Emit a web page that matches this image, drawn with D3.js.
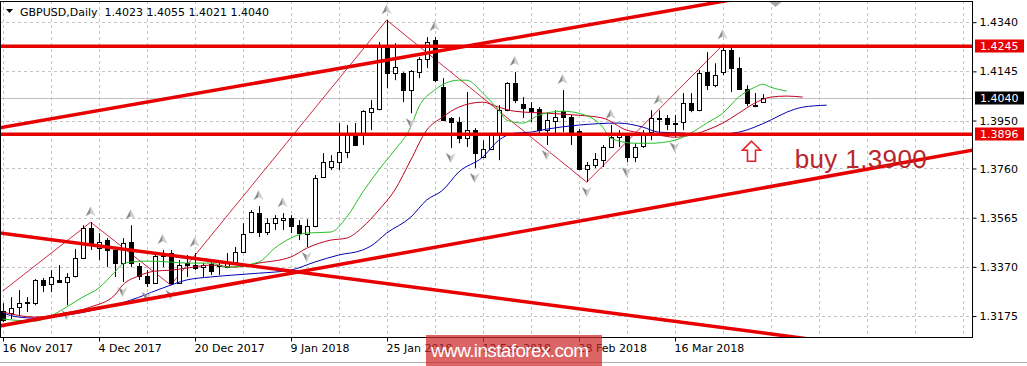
<!DOCTYPE html>
<html>
<head>
<meta charset="utf-8">
<script src="https://cdn.jsdelivr.net/npm/d3@7"></script>
<style>
  body { margin: 0; background: #fff; }
  svg { display: block; font-family: "DejaVu Sans", Verdana, sans-serif; }
</style>
</head>
<body>
<div id="chart"></div>
<script>
// GBPUSD daily candles, one per trading day from 16 Nov 2017: [open, high, low, close]
const candles = [
  [1.3195,1.3226,1.3151,1.3159],[1.3187,1.3250,1.3163,1.3207],[1.3211,1.3278,1.3179,1.3226],
  [1.3226,1.3250,1.3191,1.3230],[1.3226,1.3322,1.3218,1.3318],[1.3318,1.3326,1.3270,1.3298],
  [1.3302,1.3357,1.3270,1.3330],[1.3318,1.3377,1.3306,1.3310],[1.3310,1.3345,1.3218,1.3330],
  [1.3334,1.3441,1.3328,1.3405],[1.3405,1.3535,1.3401,1.3523],[1.3523,1.3547,1.3437,1.3464],
  [1.3445,1.3504,1.3397,1.3468],[1.3476,1.3484,1.3369,1.3437],[1.3437,1.3449,1.3330,1.3385],
  [1.3385,1.3484,1.3310,1.3464],[1.3468,1.3535,1.3369,1.3385],[1.3373,1.3385,1.3318,1.3334],
  [1.3334,1.3357,1.3290,1.3306],[1.3306,1.3425,1.3302,1.3413],[1.3413,1.3437,1.3369,1.3425],
  [1.3425,1.3437,1.3298,1.3306],[1.3306,1.3397,1.3302,1.3377],[1.3385,1.3417,1.3330,1.3377],
  [1.3377,1.3425,1.3357,1.3365],[1.3369,1.3385,1.3330,1.3377],[1.3381,1.3389,1.3338,1.3353],
  [1.3377,1.3389,1.3338,1.3373],[1.3369,1.3425,1.3365,1.3389],[1.3389,1.3449,1.3385,1.3429],
  [1.3429,1.3543,1.3425,1.3500],[1.3508,1.3595,1.3504,1.3587],[1.3583,1.3611,1.3488,1.3508],
  [1.3508,1.3563,1.3496,1.3543],[1.3543,1.3575,1.3516,1.3563],[1.3555,1.3583,1.3516,1.3563],
  [1.3563,1.3575,1.3504,1.3531],[1.3535,1.3555,1.3476,1.3504],[1.3500,1.3559,1.3449,1.3531],
  [1.3531,1.3734,1.3527,1.3722],[1.3726,1.3821,1.3722,1.3785],[1.3766,1.3813,1.3754,1.3789],
  [1.3785,1.3940,1.3754,1.3825],[1.3825,1.3932,1.3801,1.3892],[1.3892,1.3940,1.3849,1.3853],
  [1.3892,1.3991,1.3853,1.3987],[1.3983,1.4031,1.3912,1.3999],[1.3995,1.4261,1.3991,1.4245],
  [1.4241,1.4348,1.4078,1.4138],[1.4138,1.4257,1.4110,1.4162],[1.4138,1.4142,1.4023,1.4071],
  [1.4071,1.4150,1.3979,1.4146],[1.4142,1.4201,1.4118,1.4193],[1.4193,1.4281,1.4158,1.4261],
  [1.4269,1.4281,1.4102,1.4110],[1.4082,1.4118,1.3948,1.3952],[1.3960,1.3964,1.3841,1.3944],
  [1.3944,1.3964,1.3860,1.3880],[1.3880,1.4063,1.3845,1.3912],[1.3912,1.3920,1.3762,1.3821],
  [1.3805,1.3872,1.3801,1.3837],[1.3837,1.3900,1.3833,1.3892],[1.3892,1.4011,1.3793,1.3991],
  [1.3991,1.4102,1.3987,1.4098],[1.4098,1.4142,1.4019,1.4031],[1.4015,1.4043,1.3960,1.3999],
  [1.3999,1.4023,1.3944,1.3987],[1.3995,1.4003,1.3900,1.3912],[1.3912,1.3983,1.3853,1.3952],
  [1.3948,1.3991,1.3900,1.3964],[1.3987,1.4071,1.3904,1.3964],[1.3964,1.3972,1.3853,1.3904],
  [1.3908,1.3916,1.3754,1.3758],[1.3758,1.3785,1.3706,1.3773],[1.3773,1.3821,1.3762,1.3797],
  [1.3793,1.3853,1.3766,1.3845],[1.3845,1.3932,1.3841,1.3884],[1.3884,1.3912,1.3845,1.3900],
  [1.3896,1.3900,1.3785,1.3805],[1.3805,1.3860,1.3785,1.3845],[1.3849,1.3912,1.3841,1.3900],
  [1.3904,1.3991,1.3872,1.3960],[1.3960,1.3991,1.3900,1.3958],[1.3960,1.3972,1.3912,1.3936],
  [1.3936,1.3972,1.3884,1.3940],[1.3944,1.4059,1.3912,1.4019],[1.4019,1.4059,1.3983,1.3991],
  [1.3991,1.4150,1.3987,1.4138],[1.4142,1.4221,1.4071,1.4090],[1.4090,1.4177,1.4082,1.4130],
  [1.4142,1.4249,1.4130,1.4229],[1.4229,1.4249,1.4063,1.4158],[1.4158,1.4201,1.4071,1.4075],
  [1.4075,1.4090,1.4007,1.4019],[1.4011,1.4059,1.4003,1.4007],[1.4023,1.4055,1.4021,1.4040]
];

const symbol = "GBPUSD", period = "Daily";

// axis labels
const priceTicks = [1.4340, 1.4145, 1.3950, 1.3760, 1.3565, 1.3370, 1.3175];
const dateLabels = ["16 Nov 2017", "4 Dec 2017", "20 Dec 2017", "9 Jan 2018",
                    "25 Jan 2018", "12 Feb 2018", "28 Feb 2018", "16 Mar 2018"];
const dateLabelBars = [0, 12, 24, 36, 48, 60, 72, 84];

// alligator lines as [bar, price] (shifted ahead of the last bar)
const lips = [[0,1.3163],[4,1.3155],[6,1.3175],[8,1.3211],[10,1.3250],[12,1.3286],[14,1.3349],
  [15,1.3381],[16,1.3389],[18,1.3393],[21,1.3389],[23,1.3385],[26,1.3385],[28,1.3369],[32,1.3389],
  [34,1.3444],[36,1.3484],[38,1.3504],[41,1.3508],[43,1.3567],[45,1.3666],[47,1.3754],[49,1.3833],
  [51,1.3924],[52,1.4003],[54,1.4071],[57,1.4110],[58,1.4110],[60,1.4059],[62,1.3991],[63,1.3952],
  [65,1.3940],[67,1.3971],[70,1.3987],[72,1.3979],[75,1.3924],[76,1.3880],[79,1.3860],[81,1.3860],
  [84,1.3872],[86,1.3900],[88,1.3940],[90,1.3979],[92,1.4043],[94,1.4082],[95,1.4094],[96,1.4082],
  [98,1.4067]];
const teeth = [[0,1.3191],[4,1.3171],[8,1.3187],[11,1.3211],[14,1.3258],[15,1.3298],[17,1.3334],
  [19,1.3353],[21,1.3357],[23,1.3365],[26,1.3377],[29,1.3369],[32,1.3385],[36,1.3409],[38,1.3444],
  [41,1.3476],[43,1.3484],[45,1.3528],[47,1.3595],[49,1.3674],[51,1.3793],[53,1.3912],[55,1.3964],
  [57,1.4003],[60,1.4023],[62,1.4003],[64,1.3987],[68,1.3979],[72,1.3971],[75,1.3960],[78,1.3912],
  [80,1.3900],[82,1.3892],[84,1.3884],[86,1.3892],[88,1.3912],[90,1.3940],[92,1.3979],[94,1.4019],
  [96,1.4043],[98,1.4047],[100,1.4043]];
const jaw = [[0,1.3187],[2,1.3171],[4,1.3167],[8,1.3179],[12,1.3203],[16,1.3238],[20,1.3286],
  [23,1.3318],[26,1.3330],[29,1.3338],[32,1.3345],[36,1.3357],[39,1.3389],[42,1.3417],[45,1.3437],
  [46,1.3452],[48,1.3504],[51,1.3567],[53,1.3635],[55,1.3674],[57,1.3746],[60,1.3805],[62,1.3872],
  [64,1.3900],[66,1.3904],[68,1.3916],[72,1.3932],[77,1.3940],[80,1.3924],[82,1.3904],[85,1.3900],
  [88,1.3892],[92,1.3904],[94,1.3924],[96,1.3952],[98,1.3983],[100,1.4003],[103,1.4011]];

// zigzag vertices [bar, price]
const zigzag = [[0,1.3274],[11,1.3547],[21,1.3298],[48,1.4348],[73,1.3706],[90,1.4249]];

// fractal bars
const fractalUp = [11, 16, 20, 24, 32, 35, 48, 54, 64, 70, 76, 82, 90];
const fractalDown = [8, 15, 18, 21, 38, 51, 56, 59, 68, 73, 78, 84];

// hand-drawn objects
const levels = [1.4245, 1.3896];
const trendLines = [
  [[0, 1.3923], [87, 1.4406]],   // upper channel
  [[0, 1.3138], [120, 1.3826]],  // rising support
  [[0, 1.3503], [96, 1.3104]]    // falling line
];
const buyArrow = [93.6, 1.3868];
const buyNote = { bar: 99, price: 1.3762, text: "buy 1.3900" };

// ---------------------------------------------------------------
const width = 1027, height = 366;
const plotRight = 972, plotBottom = 337, plotTop = 1;

const x = d3.scaleLinear().domain([0, 120]).range([2.7, 962.7]);
const y = d3.scaleLinear().domain([1.3092, 1.4416]).range([337, 3]);
const px = v => Math.round(v) + 0.5;

const svg = d3.select("#chart").append("svg")
    .attr("width", width)
    .attr("height", height)
    .attr("viewBox", [0, 0, width, height]);

svg.append("defs").append("clipPath").attr("id", "plot")
  .append("rect").attr("x", 0).attr("y", plotTop)
  .attr("width", plotRight).attr("height", plotBottom - plotTop);

const plot = svg.append("g").attr("clip-path", "url(#plot)");

// grid
plot.append("g")
    .attr("stroke", "#c4c4c4")
    .attr("stroke-dasharray", "3,3")
  .selectAll("line.v")
  .data(d3.range(0, 121, 6))
  .join("line")
    .attr("x1", d => px(x(d))).attr("x2", d => px(x(d)))
    .attr("y1", plotTop).attr("y2", plotBottom);

plot.append("g")
    .attr("stroke", "#c4c4c4")
    .attr("stroke-dasharray", "3,3")
  .selectAll("line")
  .data(priceTicks)
  .join("line")
    .attr("x1", 0).attr("x2", plotRight)
    .attr("y1", d => px(y(d))).attr("y2", d => px(y(d)));

// bid line
const last = candles[candles.length - 1];
plot.append("line")
    .attr("x1", 0).attr("x2", plotRight)
    .attr("y1", px(y(last[3]))).attr("y2", px(y(last[3])))
    .attr("stroke", "#c0c0c0");

// zigzag
plot.append("path")
    .datum(zigzag)
    .attr("fill", "none")
    .attr("stroke", "#c8102e")
    .attr("stroke-width", 0.9)
    .attr("d", d3.line(d => x(d[0]), d => y(d[1])));

// candles
const bars = plot.append("g")
  .selectAll("g")
  .data(candles)
  .join("g");

bars.append("line")
    .attr("x1", (d, i) => px(x(i))).attr("x2", (d, i) => px(x(i)))
    .attr("y1", d => y(d[1])).attr("y2", d => y(d[2]))
    .attr("stroke", "#000");

bars.append("rect")
    .attr("x", (d, i) => Math.round(x(i)) - 1.5)
    .attr("width", 4)
    .attr("y", d => Math.round(y(Math.max(d[0], d[3]))) + 0.5)
    .attr("height", d => Math.max(0.01, Math.round(Math.abs(y(d[0]) - y(d[3])))))
    .attr("fill", d => d[3] >= d[0] ? "#fff" : "#000")
    .attr("stroke", "#000");

// alligator
const maLine = d3.line(d => x(d[0]), d => y(d[1])).curve(d3.curveMonotoneX);
[[jaw, "#0000b4"], [teeth, "#c0001a"], [lips, "#22c022"]].forEach(([data, color]) => {
  plot.append("path")
      .datum(data)
      .attr("fill", "none")
      .attr("stroke", color)
      .attr("stroke-width", 1)
      .attr("d", maLine);
});

// fractal markers
const fractals = plot.append("g");
fractals.selectAll("g.up")
  .data(fractalUp)
  .join("g")
    .attr("transform", i => `translate(${x(i)},${y(candles[i][1]) - 11})`)
    .call(g => g.append("path").attr("d", "M0,-5 L-5,5 L0,2 Z").attr("fill", "#8c8c8c"))
    .call(g => g.append("path").attr("d", "M0,-5 L5,5 L0,2 Z").attr("fill", "#cfcfcf"));
fractals.selectAll("g.down")
  .data(fractalDown)
  .join("g")
    .attr("transform", i => `translate(${x(i)},${y(candles[i][2]) + 10})`)
    .call(g => g.append("path").attr("d", "M0,5 L-5,-5 L0,-2 Z").attr("fill", "#8c8c8c"))
    .call(g => g.append("path").attr("d", "M0,5 L5,-5 L0,-2 Z").attr("fill", "#cfcfcf"));

// trend lines (rays extended across the plot)
plot.append("g")
    .attr("stroke", "#e80000")
    .attr("stroke-width", 3.5)
  .selectAll("line")
  .data(trendLines)
  .join("line")
    .each(function([a, b]) {
      const slope = (b[1] - a[1]) / (b[0] - a[0]);
      const b0 = -5, b1 = 130;
      d3.select(this)
        .attr("x1", x(b0)).attr("y1", y(a[1] + slope * (b0 - a[0])))
        .attr("x2", x(b1)).attr("y2", y(a[1] + slope * (b1 - a[0])));
    });

plot.append("g")
    .attr("stroke", "#e80000")
    .attr("stroke-width", 3.5)
  .selectAll("line")
  .data(levels)
  .join("line")
    .attr("x1", 0).attr("x2", plotRight)
    .attr("y1", d => y(d)).attr("y2", d => y(d));

// buy arrow
plot.append("path")
    .attr("transform", `translate(${x(buyArrow[0])},${y(buyArrow[1])})`)
    .attr("d", "M0,0 L9,9 L4,9 L4,20 L-4,20 L-4,9 L-9,9 Z")
    .attr("fill", "#fff")
    .attr("stroke", "#e8202a")
    .attr("stroke-width", 1.6);

plot.append("text")
    .attr("x", x(buyNote.bar))
    .attr("y", y(buyNote.price))
    .attr("font-family", "'Liberation Sans', Arial, sans-serif")
    .attr("font-size", 26)
    .attr("textLength", 132)
    .attr("fill", "#b8262b")
    .text(buyNote.text);

// chart shift marker
svg.append("path")
    .attr("d", `M${x(96.6) - 6},2 L${x(96.6) + 6},2 L${x(96.6)},7 Z`)
    .attr("fill", "#a8a8a8");

// frame
svg.append("rect")
    .attr("x", 0.5).attr("y", plotTop + 0.5)
    .attr("width", plotRight).attr("height", plotBottom - plotTop)
    .attr("fill", "none").attr("stroke", "#000");

// right price axis
svg.append("g")
    .attr("transform", `translate(${plotRight + 0.5},0)`)
    .call(d3.axisRight(y).tickValues(priceTicks).tickFormat(d3.format(".4f")).tickSize(4).tickPadding(3))
    .call(g => g.select(".domain").remove())
    .call(g => g.selectAll("text").attr("font-size", 11).attr("fill", "#000").attr("font-family", "DejaVu Sans"))
    .call(g => g.selectAll("line").attr("stroke", "#000"));

// price tags
const tags = [[levels[0], "#e80000"], [last[3], "#000"], [levels[1], "#e80000"]];
const tag = svg.append("g").selectAll("g").data(tags).join("g")
    .attr("transform", d => `translate(${plotRight + 3},${Math.round(y(d[0]))})`);
tag.append("rect")
    .attr("x", 0).attr("y", -6.5).attr("width", 49).attr("height", 13)
    .attr("fill", d => d[1]);
tag.append("text")
    .attr("x", 5).attr("dy", "0.36em")
    .attr("font-size", 11).attr("fill", "#fff")
    .text(d => d3.format(".4f")(d[0]));

// bottom time axis
svg.append("g")
    .attr("transform", `translate(0,${plotBottom + 0.5})`)
    .call(d3.axisBottom(x).tickValues(dateLabelBars).tickFormat((d, i) => dateLabels[i]).tickSize(4).tickPadding(3))
    .call(g => g.select(".domain").remove())
    .call(g => g.selectAll(".tick").attr("transform", d => `translate(${px(x(d))},0)`))
    .call(g => g.selectAll("line").attr("stroke", "#000"))
    .call(g => g.selectAll("text").attr("text-anchor", "start").attr("x", -1)
        .attr("font-size", 11).attr("fill", "#000").attr("font-family", "DejaVu Sans"));

// header
svg.append("path").attr("d", "M6,9 L13,9 L9.5,13 Z").attr("fill", "#000");
svg.append("text")
    .attr("x", 20).attr("y", 16)
    .attr("font-size", 11).attr("fill", "#000")
    .attr("xml:space", "preserve")
    .text(`${symbol},${period}  ${last.map(d3.format(".4f")).join(" ")}`);

// window bottom edge
svg.append("line")
    .attr("x1", 0).attr("x2", width).attr("y1", 362.5).attr("y2", 362.5)
    .attr("stroke", "#b0b0b0");

// watermark
svg.append("rect")
    .attr("x", 426).attr("y", 335).attr("width", 176).attr("height", 31)
    .attr("fill", "rgba(205,40,40,0.72)");
svg.append("text")
    .attr("x", 431).attr("y", 357)
    .attr("font-family", "'Liberation Sans', Arial, sans-serif")
    .attr("font-size", 19)
    .attr("textLength", 158)
    .attr("fill", "#fff")
    .text("www.instaforex.com");
</script>
</body>
</html>
